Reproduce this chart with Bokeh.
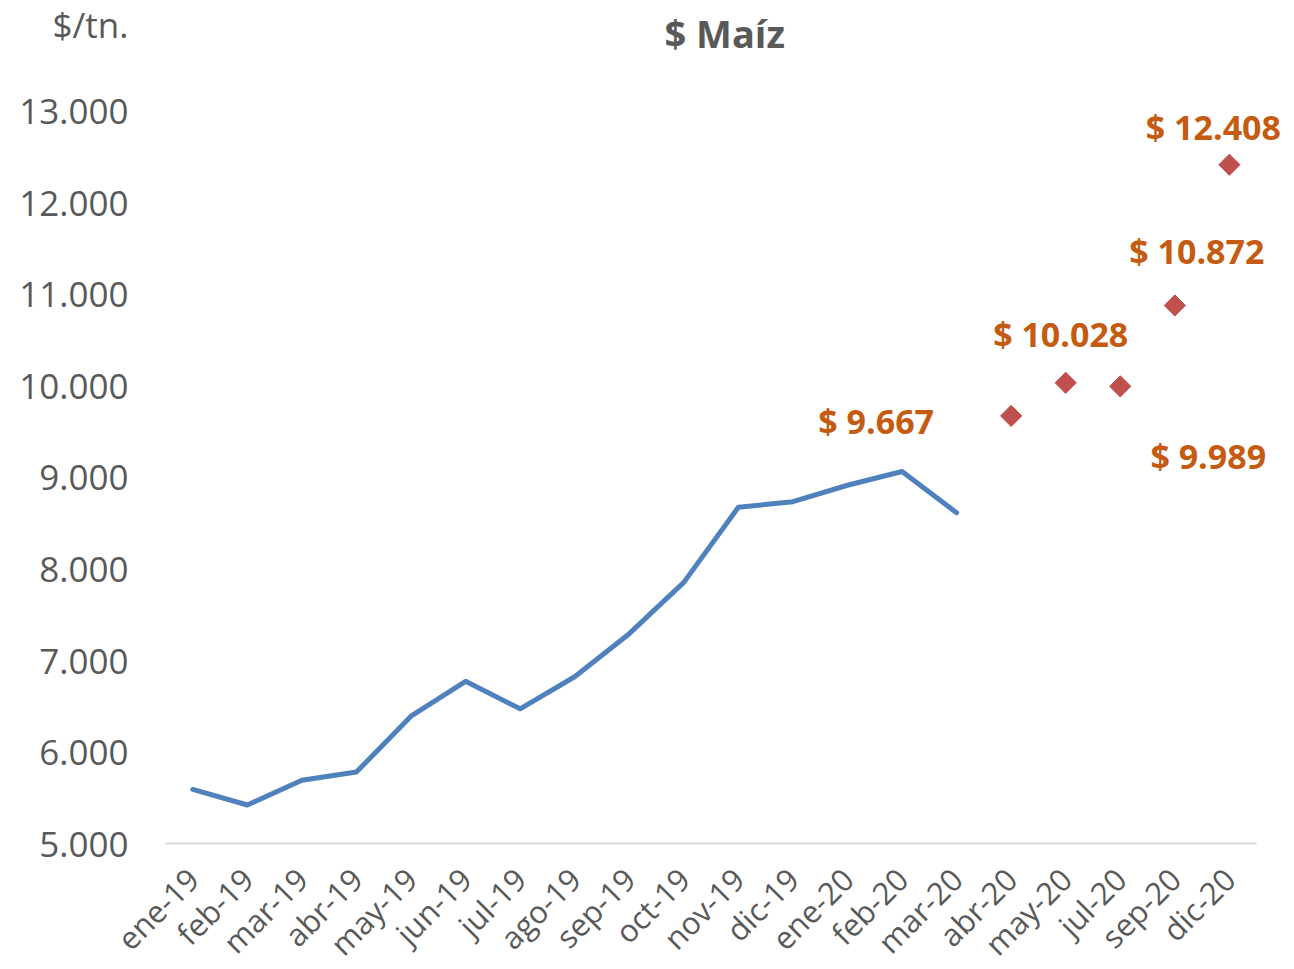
import math
from bokeh.plotting import figure
from bokeh.models import Range1d, Label, LabelSet, FixedTicker, ColumnDataSource
from bokeh.core.properties import value
from bokeh.embed import file_html
from bokeh.resources import INLINE

months = ["ene-19", "feb-19", "mar-19", "abr-19", "may-19", "jun-19", "jul-19",
          "ago-19", "sep-19", "oct-19", "nov-19", "dic-19", "ene-20", "feb-20",
          "mar-20", "abr-20", "may-20", "jul-20", "sep-20", "dic-20"]

hist_months = months[:15]
hist_values = [5590, 5420, 5690, 5780, 6390, 6770, 6470, 6820, 7290, 7850,
               8670, 8730, 8910, 9060, 8610]

proj_months = months[15:]
proj_values = [9667, 10028, 9989, 10872, 12408]

y_ticks = [5000, 6000, 7000, 8000, 9000, 10000, 11000, 12000, 13000]
y_unit_tick = 13980
unit_text = "$/tn."
title_text = "$ Maíz"

# label placement (screen px offsets from each diamond)
label_dx = [-135, -5, 88, 22, -16]
label_dy = [-5, 49, -70, 54, 38]

FONT = "Open Sans"
GRAY = "#595959"

idx = {m: i for i, m in enumerate(months)}
hist_x = [idx[m] for m in hist_months]
proj_x = [idx[m] for m in proj_months]

p = figure(x_range=Range1d(-0.5, 20.12),
           y_range=Range1d(5000, 14113),
           frame_width=1125, frame_height=835,
           min_border_left=165, min_border_right=0,
           min_border_top=8, min_border_bottom=118,
           output_backend="svg", toolbar_location=None,
           background_fill_color="white", border_fill_color="white")
p.outline_line_color = None
p.xgrid.grid_line_color = None
p.ygrid.grid_line_color = None

p.line(hist_x, hist_values, line_color="#4F81BD", line_width=5,
       line_join="round", line_cap="round")
p.scatter(proj_x, proj_values, marker="square", angle=math.pi / 4,
          size=15, fill_color="#C0504D", line_color="#C0504D")

fmt = lambda v: "$ " + f"{v:,}".replace(",", ".")
src = ColumnDataSource(dict(x=proj_x, y=proj_values,
                            t=[fmt(v) for v in proj_values],
                            dx=label_dx, dy=label_dy))
p.add_layout(LabelSet(x="x", y="y", text="t", x_offset="dx", y_offset="dy",
                      source=src, text_align="center", text_baseline="middle",
                      text_font=value(FONT), text_font_style="bold",
                      text_font_size="34px", text_color="#C55A11"))

# y axis
p.yaxis.ticker = FixedTicker(ticks=y_ticks + [y_unit_tick])
overrides = {t: f"{t:,}".replace(",", ".") for t in y_ticks}
overrides[y_unit_tick] = unit_text
p.yaxis.major_label_overrides = overrides
p.yaxis.axis_line_color = None
p.yaxis.major_tick_line_color = None
p.yaxis.minor_tick_line_color = None
p.yaxis.major_tick_out = 0
p.yaxis.major_tick_in = 0
p.yaxis.major_label_standoff = 37
p.yaxis.major_label_text_font = FONT
p.yaxis.major_label_text_font_size = "35px"
p.yaxis.major_label_text_color = GRAY

# x axis
p.xaxis.ticker = FixedTicker(ticks=list(range(len(months))))
p.xaxis.major_label_overrides = {i: m for i, m in enumerate(months)}
p.xaxis.bounds = (-0.5, len(months) - 0.5)
p.xaxis.axis_line_color = "#D9D9D9"
p.xaxis.axis_line_width = 2
p.xaxis.major_tick_line_color = None
p.xaxis.minor_tick_line_color = None
p.xaxis.major_tick_out = 0
p.xaxis.major_tick_in = 0
p.xaxis.major_label_standoff = 30
p.xaxis.major_label_orientation = math.pi / 4
p.xaxis.major_label_text_font = FONT
p.xaxis.major_label_text_font_size = "31px"
p.xaxis.major_label_text_color = GRAY

p.add_layout(Label(x=9.75, y=13851, text=title_text,
                   text_align="center", text_baseline="middle",
                   text_font=FONT, text_font_style="bold", text_font_size="38px",
                   text_color=GRAY))

open("out.html", "w").write(file_html(p, INLINE))
